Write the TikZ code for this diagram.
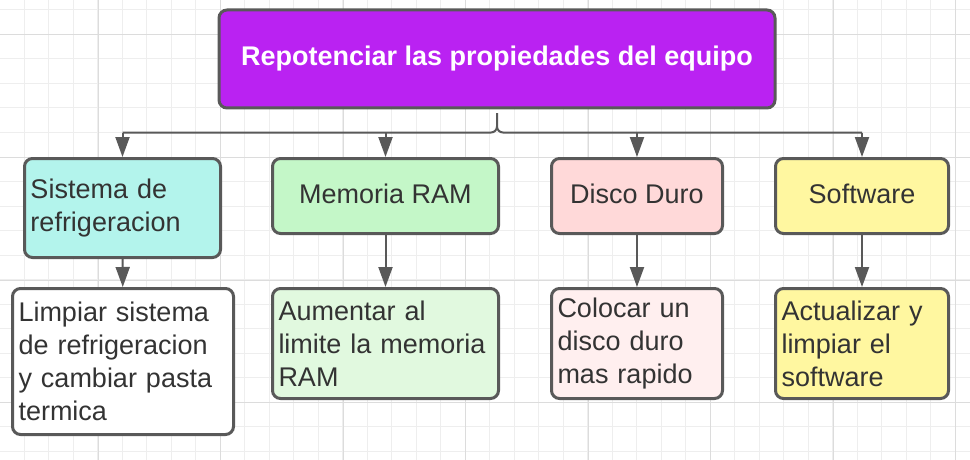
\documentclass[tikz,border=0pt]{standalone}
\usepackage{fontspec}
\setmainfont{Liberation Sans}
\usetikzlibrary{arrows.meta, positioning}
\definecolor{linegray}{HTML}{595959}
\definecolor{textgray}{HTML}{333333}
\definecolor{titlepurple}{HTML}{BA22F2}
\definecolor{coolcyan}{HTML}{B3F4EC}
\definecolor{ramgreen}{HTML}{C4F7C8}
\definecolor{ramlight}{HTML}{E1F9DF}
\definecolor{diskpink}{HTML}{FFD9D9}
\definecolor{disklight}{HTML}{FFEFEF}
\definecolor{softyellow}{HTML}{FFF7A0}
\definecolor{gridminor}{HTML}{EEEEEE}
\definecolor{gridmajor}{HTML}{DCDCDC}
\tikzstyle{box} = [rectangle, draw=linegray, line width=3pt, rounded corners=8pt, inner sep=0pt, font=\fontsize{27}{33}\selectfont, text=textgray]
\tikzstyle{topic} = [box, anchor=north west, align=center, text height=20pt, text depth=5pt]
\tikzstyle{task} = [box, anchor=north west, align=left, inner xsep=6pt]
\tikzstyle{link} = [line width=2pt, draw=linegray]
\tikzstyle{arrow} = [link, -{Triangle[width=14pt,length=20pt]}]

\begin{document}
\begin{tikzpicture}[x=1pt, y=-1pt]
    \useasboundingbox (0,0) rectangle (970,460);
    \fill[white] (0,0) rectangle (970,460);
    % background grid
    \foreach \k in {0,...,40}
        \draw[gridminor, line width=1pt] ({24.5*\k-0.5},0) -- ({24.5*\k-0.5},460);
    \foreach \k in {0,...,18}
        \draw[gridminor, line width=1pt] (0,{10+24.5*\k}) -- (970,{10+24.5*\k});
    \foreach \k in {0,...,7}
        \draw[gridmajor, line width=1pt] ({98+122.5*\k},0) -- ({98+122.5*\k},460);
    \foreach \k in {0,...,3}
        \draw[gridmajor, line width=1pt] (0,{35+122.5*\k}) -- (970,{35+122.5*\k});

    \node (title) [box, fill=titlepurple, text=white, font=\bfseries\fontsize{27}{30}\selectfont, minimum width=556pt, minimum height=98pt] at (497,59) {Repotenciar las propiedades del equipo};

    \node (cooling) [task, fill=coolcyan, text width=184pt, minimum height=99pt] at (23,157) {Sistema de\\refrigeracion};
    \node (ram) [topic, fill=ramgreen, minimum width=226pt, minimum height=75pt] at (271,157) {Memoria RAM};
    \node (disk) [topic, fill=diskpink, minimum width=171pt, minimum height=75pt] at (550,157) {Disco Duro};
    \node (soft) [topic, fill=softyellow, minimum width=173pt, minimum height=75pt] at (774,157) {Software};

    \node (coolingtask) [task, fill=white, text width=209pt, minimum height=146pt] at (11,287) {Limpiar sistema\\de refrigeracion\\y cambiar pasta\\termica};
    \node (ramtask) [task, fill=ramlight, text width=214pt, minimum height=110pt] at (271,287) {Aumentar al\\limite la memoria\\RAM};
    \node (disktask) [task, fill=disklight, text width=159pt, minimum height=110pt] at (550,287) {Colocar un\\disco duro\\mas rapido};
    \node (softtask) [task, fill=softyellow, text width=161pt, minimum height=110pt] at (774,287) {Actualizar y\\limpiar el\\software};

    \path (title.south) ++(0,23) coordinate (hub);
    \draw [link, rounded corners=6pt] (cooling.north |- hub) -| (title.south) |- (soft.north |- hub);
    \foreach \n in {cooling, ram, disk, soft}
        \draw [arrow] (\n.north |- hub) -- (\n.north);

    \draw [arrow] (cooling) -- (coolingtask);
    \draw [arrow] (ram) -- (ramtask);
    \draw [arrow] (disk) -- (disktask);
    \draw [arrow] (soft) -- (softtask);
\end{tikzpicture}
\end{document}
